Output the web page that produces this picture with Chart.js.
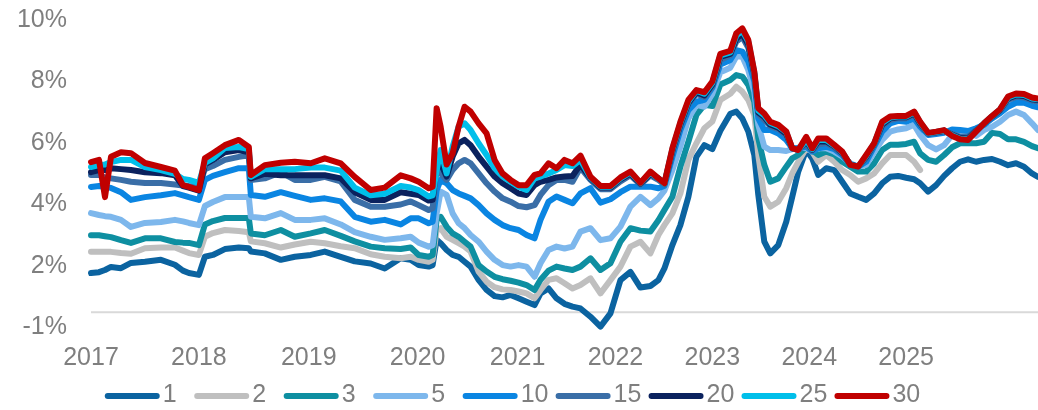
<!DOCTYPE html>
<html>
<head>
<meta charset="utf-8">
<script src="https://cdn.jsdelivr.net/npm/chart.js@4.4.0/dist/chart.umd.min.js"></script>
<style>
  html, body { margin: 0; padding: 0; background: #ffffff; }
  #wrap { position: relative; width: 1038px; height: 410px; }
</style>
</head>
<body>
<div id="wrap"><canvas id="yieldChart"></canvas></div>
<script>
// x = week number since start of 2017
const weeks = [
  0, 4, 7, 10, 15, 20, 27, 35, 42, 46, 49, 54, 57, 61, 67, 74, 79,
  80, 87, 95, 102, 110, 117, 125, 132, 140, 147, 155, 160,
  164, 169, 171, 173, 175, 178, 181, 184, 187, 190, 194, 198, 202, 206, 210, 214, 218, 222, 225, 229, 233, 237, 241,
  245, 250, 255, 260, 265, 270, 275, 280, 284, 287, 291, 295, 299, 303, 307, 311, 315, 320,
  323, 326, 329, 332, 334, 337, 340, 344, 348, 351, 354, 358, 361, 364, 368, 372, 376, 380, 384, 388, 392, 396, 400,
  404, 408, 412, 415, 419, 423, 427, 431, 435, 439, 443, 447, 451, 455, 459, 463, 467, 471, 474
];

const tenor1 = [
  1.77, 1.8, 1.87, 1.97, 1.93, 2.1, 2.14, 2.2, 2.04, 1.85, 1.77, 1.71, 2.3, 2.36, 2.55, 2.6, 2.58,
  2.47, 2.41, 2.2, 2.3, 2.36, 2.47, 2.3, 2.15, 2.08, 1.92, 2.25, 2.2,
  2.03, 1.98, 2.03, 2.85, 2.74, 2.52, 2.36, 2.3, 2.14, 1.98, 1.55, 1.22, 1.02, 0.98, 1.06, 0.95, 0.84, 0.73, 1.11, 1.27, 0.95, 0.77, 0.68,
  0.62, 0.35, 0.03, 0.46, 1.54, 1.81, 1.3, 1.35, 1.54, 1.92, 2.68, 3.33, 4.25, 5.55, 5.93, 5.8, 6.4, 6.95,
  7.02, 6.8, 6.37, 5.61, 4.31, 2.79, 2.41, 2.68, 3.44, 4.25, 5.07, 5.77, 5.5, 4.96, 5.18, 5.12, 4.74, 4.36, 4.25, 4.15, 4.36, 4.69, 4.9,
  4.93, 4.87, 4.82, 4.69, 4.42, 4.63, 4.93, 5.18, 5.39, 5.47, 5.39, 5.45, 5.48, 5.39, 5.28, 5.34, 5.23, 5.01, 4.9
];
const tenor2 = [
  2.46, 2.46, 2.46, 2.46, 2.42, 2.4, 2.58, 2.6, 2.6, 2.5, 2.42, 2.36, 2.95, 3.07, 3.17, 3.14, 3.1,
  2.8, 2.74, 2.6, 2.7, 2.79, 2.74, 2.64, 2.58, 2.38, 2.3, 2.25, 2.3,
  2.2, 2.14, 2.2, 3.17, 3.23, 2.95, 2.85, 2.74, 2.63, 2.47, 1.82, 1.49, 1.31, 1.24, 1.22, 1.17, 1.11, 0.95, 1.22, 1.55, 1.6, 1.44, 1.27,
  1.38, 1.6, 1.11, 1.54, 1.98, 2.63, 2.79, 2.41, 3.01, 3.33, 3.71, 4.36, 5.45, 5.99, 6.48, 6.7, 7.4, 7.6,
  7.83, 7.67, 7.4, 6.91, 5.61, 4.25, 3.93, 4.09, 4.53, 5.01, 5.39, 5.83, 5.72, 5.39, 5.61, 5.39, 5.12, 4.96, 4.74, 4.85, 5.01, 5.34, 5.61,
  5.61, 5.61, 5.39, 5.12, null, null, null, null, null, null, null, null, null, null, null, null, null, null, null
];
const tenor3 = [
  3.0, 3.0, 2.97, 2.94, 2.84, 2.75, 2.9, 2.9, 2.78, 2.76, 2.75, 2.68, 3.35, 3.46, 3.56, 3.56, 3.56,
  3.06, 3.0, 3.17, 2.95, 3.06, 3.17, 2.98, 2.8, 2.63, 2.58, 2.55, 2.6,
  2.36, 2.3, 2.36, 3.5, 3.6, 3.28, 3.06, 2.95, 2.79, 2.63, 2.03, 1.82, 1.65, 1.57, 1.52, 1.46, 1.38, 1.22, 1.55, 1.85, 1.98, 1.92, 1.87,
  1.98, 2.25, 1.87, 2.09, 2.79, 3.23, 3.15, 3.12, 3.49, 3.82, 4.25, 5.23, 6.04, 6.91, 7.24, 7.2, 7.9, 8.05,
  8.21, 8.16, 7.89, 7.34, 6.15, 5.29, 4.74, 4.85, 5.23, 5.5, 5.61, 5.87, 5.77, 5.61, 5.72, 5.63, 5.39, 5.23, 5.07, 5.07, 5.34, 5.77, 5.94,
  5.94, 5.97, 6.04, 5.66, 5.45, 5.39, 5.61, 5.86, 5.99, 5.99, 5.99, 6.04, 6.33, 6.29, 6.12, 6.12, 6.04, 5.9, 5.83
];
const tenor5 = [
  3.72, 3.66, 3.62, 3.6, 3.5, 3.27, 3.4, 3.43, 3.5, 3.45, 3.4, 3.33, 3.95, 4.08, 4.24, 4.24, 4.24,
  3.6, 3.55, 3.72, 3.5, 3.5, 3.55, 3.35, 3.1, 2.95, 2.85, 2.9, 2.95,
  2.76, 2.63, 2.68, 3.71, 4.42, 4.31, 3.71, 3.39, 3.23, 3.01, 2.79, 2.47, 2.2, 2.03, 1.98, 2.03, 1.98, 1.65, 2.09, 2.52, 2.63, 2.57, 2.63,
  3.12, 3.23, 2.84, 2.9, 3.28, 3.93, 4.25, 3.98, 4.2, 4.45, 5.12, 5.88, 6.8, 7.24, 7.18, 7.6, 8.3, 8.45,
  8.81, 8.81, 8.37, 7.67, 6.59, 5.88, 5.77, 5.77, 5.74, 5.8, 5.85, 5.83, 5.77, 5.83, 5.83, 5.72, 5.56, 5.34, 5.23, 5.29, 5.7, 6.1, 6.37,
  6.44, 6.48, 6.59, 6.26, 5.93, 5.79, 5.93, 6.26, 6.37, 6.37, 6.23, 6.42, 6.53, 6.69, 6.91, 7.02, 6.91, 6.64, 6.42
];
const tenor10 = [
  4.57, 4.6, 4.57, 4.54, 4.4, 4.15, 4.24, 4.3, 4.37, 4.3, 4.24, 4.15, 4.8, 4.93, 5.05, 5.18, 5.18,
  4.31, 4.25, 4.4, 4.28, 4.15, 4.2, 4.1, 3.6, 3.44, 3.5, 3.35, 3.55,
  3.55, 3.39, 3.44, 4.47, 4.8, 4.69, 4.47, 4.36, 4.28, 4.2, 3.98, 3.71, 3.5, 3.33, 3.23, 3.17, 3.01, 2.9, 3.5, 4.09, 4.26, 4.15, 4.04,
  4.36, 4.53, 4.06, 4.17, 4.4, 4.58, 4.58, 4.58, 4.53, 4.6, 5.55, 6.42, 7.07, 7.34, 7.4, 7.8, 8.55, 8.7,
  9.02, 8.97, 8.65, 8.0, 6.8, 6.42, 6.42, 6.31, 6.1, 5.83, 5.83, 5.88, 5.72, 5.83, 5.88, 5.8, 5.61, 5.31, 5.23, 5.39, 5.88, 6.37, 6.64,
  6.72, 6.69, 6.8, 6.53, 6.26, 6.29, 6.33, 6.44, 6.42, 6.39, 6.48, 6.59, 6.8, 6.97, 7.18, 7.31, 7.31, 7.21, 7.16
];
const tenor15 = [
  4.96, 4.96, 4.88, 4.85, 4.8, 4.74, 4.7, 4.7, 4.65, 4.62, 4.6, 4.58, 5.15, 5.25, 5.45, 5.55, 5.6,
  4.8, 4.85, 5.05, 4.8, 4.8, 4.9, 4.75, 4.15, 3.93, 3.93, 4.0, 4.1,
  3.98, 3.82, 3.88, 5.18, 5.01, 4.8, 5.12, 5.34, 5.45, 5.34, 5.01, 4.69, 4.42, 4.2, 4.09, 3.95, 3.91, 3.98, 4.31, 4.63, 4.8, 4.8, 4.74,
  5.2, 4.8, 4.5, 4.5, 4.75, 4.95, 4.65, 4.95, 4.8, 4.65, 5.7, 6.55, 7.25, 7.6, 7.5, 7.85, 8.7, 8.85,
  9.3, 9.45, 9.1, 8.2, 6.95, 6.75, 6.55, 6.45, 6.25, 5.83, 5.78, 5.95, 5.75, 5.95, 6.0, 5.85, 5.65, 5.3, 5.23, 5.5, 5.95, 6.55, 6.75,
  6.8, 6.8, 6.92, 6.6, 6.3, 6.33, 6.38, 6.3, 6.2, 6.2, 6.42, 6.62, 6.85, 7.05, 7.4, 7.5, 7.48, 7.38, 7.35
];
const tenor20 = [
  5.05, 5.12, 5.12, 5.18, 5.15, 5.12, 5.05, 5.02, 4.95, 4.6, 4.55, 4.45, 5.3, 5.45, 5.7, 5.77, 5.7,
  4.85, 5.0, 4.95, 4.95, 4.95, 4.95, 4.85, 4.4, 4.15, 4.15, 4.4, 4.35,
  4.31, 4.13, 4.15, 5.34, 5.34, 4.91, 5.56, 5.99, 6.1, 5.93, 5.56, 5.23, 4.91, 4.69, 4.53, 4.36, 4.31, 4.63, 4.74, 4.8, 4.88, 4.91, 4.93,
  5.3, 4.85, 4.55, 4.55, 4.82, 5.0, 4.68, 5.0, 4.85, 4.68, 5.75, 6.6, 7.3, 7.65, 7.55, 7.9, 8.8, 8.9,
  9.4, 9.55, 9.2, 8.25, 7.0, 6.85, 6.6, 6.5, 6.3, 5.83, 5.78, 6.05, 5.78, 6.05, 6.05, 5.9, 5.68, 5.3, 5.23, 5.55, 5.97, 6.6, 6.8,
  6.84, 6.84, 6.96, 6.64, 6.31, 6.35, 6.4, 6.27, 6.16, 6.15, 6.4, 6.63, 6.86, 7.07, 7.45, 7.55, 7.53, 7.42, 7.4
];
const tenor25 = [
  5.22, 5.28, 5.3, 5.38, 5.45, 5.45, 5.22, 5.12, 5.0, 4.83, 4.8, 4.7, 5.35, 5.5, 5.84, 5.87, 5.8,
  4.9, 5.15, 5.15, 5.15, 5.2, 5.2, 5.1, 4.55, 4.3, 4.35, 4.6, 4.55,
  4.47, 4.26, 4.3, 5.12, 5.77, 5.01, 5.88, 6.53, 6.64, 6.42, 5.99, 5.61, 5.18, 4.91, 4.74, 4.58, 4.47, 4.85, 4.91, 5.01, 5.12, 5.28, 5.25,
  5.45, 4.88, 4.58, 4.58, 4.85, 5.04, 4.7, 5.04, 4.84, 4.68, 5.8, 6.65, 7.35, 7.7, 7.6, 7.95, 8.85, 8.95,
  9.5, 9.65, 9.3, 8.3, 7.05, 6.9, 6.65, 6.55, 6.35, 5.83, 5.77, 6.1, 5.8, 6.1, 6.1, 5.92, 5.7, 5.29, 5.23, 5.58, 5.98, 6.65, 6.83,
  6.86, 6.86, 7.0, 6.67, 6.32, 6.36, 6.41, 6.25, 6.14, 6.12, 6.38, 6.64, 6.87, 7.09, 7.48, 7.58, 7.56, 7.45, 7.42
];
const tenor30 = [
  5.38, 5.45, 4.24, 5.55, 5.7, 5.67, 5.35, 5.22, 5.1, 4.63, 4.57, 4.47, 5.5, 5.67, 5.93, 6.1, 5.87,
  4.96, 5.28, 5.36, 5.39, 5.34, 5.5, 5.34, 4.9, 4.47, 4.55, 4.95, 4.85,
  4.74, 4.53, 4.58, 7.13, 6.53, 5.3, 5.66, 6.53, 7.18, 7.02, 6.64, 6.31, 5.45, 5.01, 4.8, 4.63, 4.63, 4.96, 5.01, 5.34, 5.18, 5.45, 5.34,
  5.59, 4.9, 4.6, 4.6, 4.88, 5.07, 4.71, 5.07, 4.85, 4.69, 5.83, 6.69, 7.4, 7.72, 7.65, 8.0, 8.9, 9.0,
  9.57, 9.73, 9.35, 8.32, 7.13, 6.96, 6.69, 6.59, 6.37, 5.83, 5.77, 6.2, 5.83, 6.15, 6.15, 5.94, 5.72, 5.29, 5.23, 5.61, 5.99, 6.69, 6.86,
  6.88, 6.88, 7.02, 6.69, 6.33, 6.37, 6.42, 6.23, 6.12, 6.1, 6.37, 6.64, 6.88, 7.1, 7.51, 7.61, 7.59, 7.48, 7.45
];

const seriesNames = ["1", "2", "3", "5", "10", "15", "20", "25", "30"];
const seriesValues = [tenor1, tenor2, tenor3, tenor5, tenor10, tenor15, tenor20, tenor25, tenor30];
const seriesColors = ["#0b63a0", "#bfbfbf", "#0e8fa1", "#7db7ec", "#0a85e2", "#3a6ea7", "#0b225e", "#00bfea", "#c00000"];

const yearTicks = [0, 54, 109, 163.5, 213.5, 262.5, 311, 359.5, 408];
const yearLabels = ["2017", "2018", "2019", "2020", "2021", "2022", "2023", "2024", "2025"];
const yTickValues = [0, 2, 4, 6, 8, 10];
const yTickLabels = ["-1%", "2%", "4%", "6%", "8%", "10%"];
const baseLineValue = 0.5;

const textGray = "#7f7f7f";
const fontFamily = "'Liberation Sans', Arial, sans-serif";
Chart.defaults.font.family = fontFamily;

const datasets = seriesNames.map((name, i) => ({
  label: name,
  data: weeks.map((w, j) => ({ x: w, y: seriesValues[i][j] })),
  borderColor: seriesColors[i],
  backgroundColor: seriesColors[i],
  borderWidth: 6,
  borderCapStyle: "round",
  borderJoinStyle: "round",
  pointRadius: 0,
  tension: 0,
  spanGaps: false,
  clip: false,
  order: seriesNames.length - i
}));

const baseLinePlugin = {
  id: "baseLine",
  beforeDatasetsDraw(chart) {
    const { ctx, chartArea, scales } = chart;
    const y = scales.y.getPixelForValue(baseLineValue);
    ctx.save();
    ctx.strokeStyle = "#d9d9d9";
    ctx.lineWidth = 2;
    ctx.beginPath();
    ctx.moveTo(chartArea.left, y);
    ctx.lineTo(chartArea.right, y);
    ctx.stroke();
    ctx.restore();
  }
};

// excel-like legend: short thick line + label
const bottomLegend = {
  id: "bottomLegend",
  afterDraw(chart) {
    const ctx = chart.ctx;
    ctx.save();
    ctx.font = "25px " + fontFamily;
    const lineLen = 49, gap = 6;
    const items = chart.data.datasets.map(ds => ({
      text: ds.label,
      color: ds.borderColor,
      w: ctx.measureText(ds.label).width
    }));
    const slots = items.map((it, i) => i < items.length - 1 ? 86 + it.w * 0.25 : lineLen + gap + it.w);
    const total = slots.reduce((a, b) => a + b, 0);
    let x = chart.width / 2 - 5 - total / 2;
    const y = 396;
    items.forEach((it, i) => {
      ctx.strokeStyle = it.color;
      ctx.lineWidth = 6;
      ctx.lineCap = "round";
      ctx.beginPath();
      ctx.moveTo(x, y);
      ctx.lineTo(x + lineLen, y);
      ctx.stroke();
      ctx.fillStyle = textGray;
      ctx.textAlign = "left";
      ctx.textBaseline = "middle";
      ctx.fillText(it.text, x + lineLen + gap, y - 1);
      x += slots[i];
    });
    ctx.restore();
  }
};

new Chart(document.getElementById("yieldChart"), {
  type: "line",
  data: { datasets },
  options: {
    responsive: true,
    maintainAspectRatio: false,
    animation: false,
    layout: { padding: { top: 20, left: 0, right: 0, bottom: 0 } },
    plugins: {
      legend: { display: false },
      tooltip: { enabled: false }
    },
    scales: {
      x: {
        type: "linear",
        min: 0,
        max: 474,
        grid: { display: false, drawTicks: false },
        border: { display: false },
        afterBuildTicks: scale => { scale.ticks = yearTicks.map(v => ({ value: v })); },
        afterFit: scale => { scale.height = 82.5; scale.paddingLeft = 0; scale.paddingRight = 0; },
        ticks: {
          autoSkip: false,
          maxRotation: 0,
          padding: 16,
          color: textGray,
          font: { size: 25 },
          callback: (v, i) => yearLabels[i]
        }
      },
      y: {
        min: 0,
        max: 10,
        grid: { display: false, drawTicks: false },
        border: { display: false },
        afterBuildTicks: scale => { scale.ticks = yTickValues.map(v => ({ value: v })); },
        afterFit: scale => { scale.width = 91; scale.paddingTop = 0; scale.paddingBottom = 0; },
        ticks: {
          padding: 24,
          color: textGray,
          font: { size: 25 },
          callback: (v, i) => yTickLabels[i]
        }
      }
    }
  },
  plugins: [baseLinePlugin, bottomLegend]
});
</script>
</body>
</html>
